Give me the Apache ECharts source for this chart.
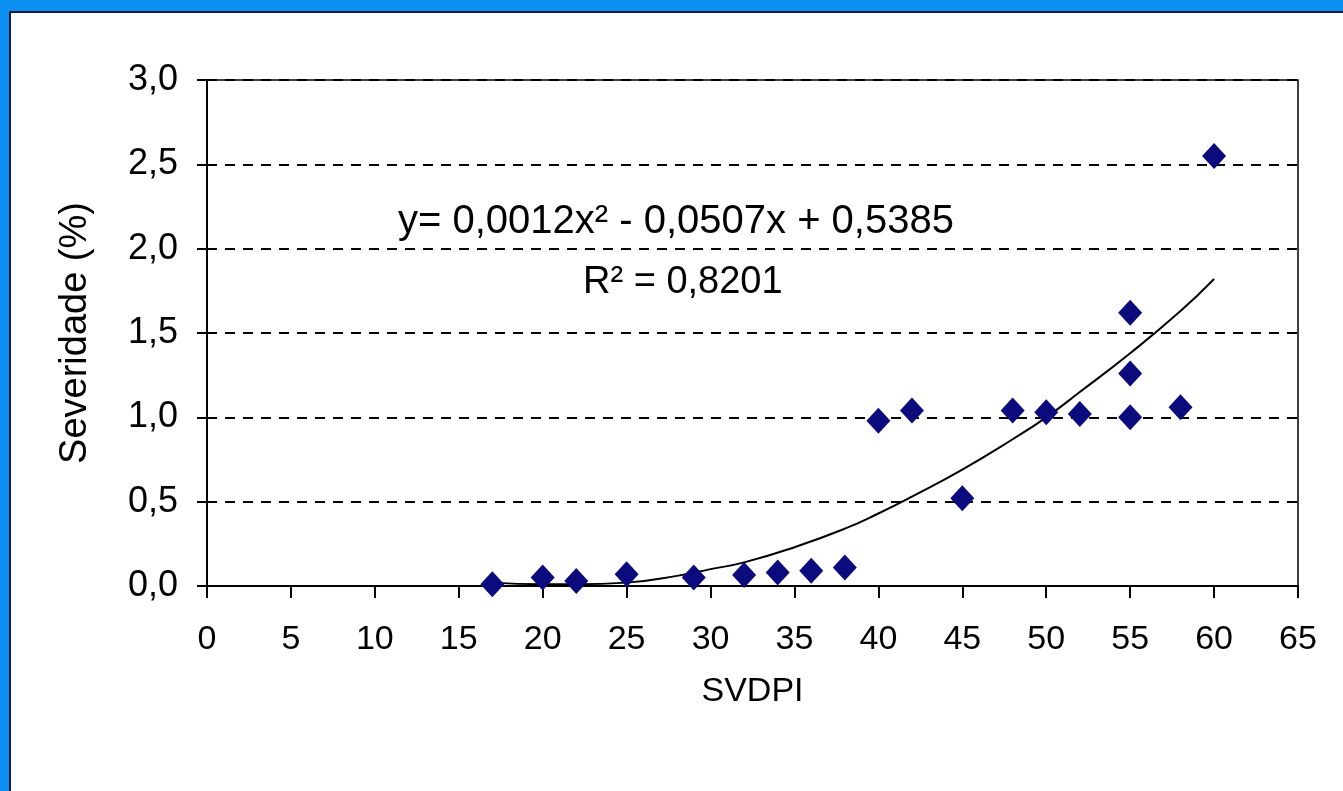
<!DOCTYPE html>
<html>
<head>
<meta charset="utf-8">
<script src="https://cdn.jsdelivr.net/npm/echarts@6/dist/echarts.min.js"></script>
<style>
html,body{margin:0;padding:0;background:#fff;}
#main{width:1343px;height:791px;}
</style>
</head>
<body>
<div id="main"></div>
<script>
// Observed points (SVDPI, Severidade %)
const svdpi = [17, 20, 22, 25, 29, 32, 34, 36, 38, 40, 42, 45, 48, 50, 52, 55, 55, 55, 58, 60];
const severidade = [0.01, 0.05, 0.03, 0.07, 0.05, 0.065, 0.08, 0.09, 0.11, 0.98, 1.04, 0.52, 1.04, 1.03, 1.02, 1.00, 1.26, 1.62, 1.06, 2.55];
// Trend line
const trendX = [17, 20, 22, 25, 28, 30, 32, 35, 38, 40, 42, 45, 48, 50, 52, 55, 58, 60];
const trendY = [0.02, 0.01, 0.01, 0.02, 0.06, 0.10, 0.14, 0.23, 0.34, 0.43, 0.53, 0.69, 0.87, 1.00, 1.15, 1.38, 1.63, 1.82];
const equationText = 'y= 0,0012x² - 0,0507x + 0,5385';
const r2Text = 'R² = 0,8201';
const xAxisName = 'SVDPI';
const yAxisName = 'Severidade (%)';

const chart = echarts.init(document.getElementById('main'));
const FONT = '"Liberation Sans", Arial, sans-serif';
const points = svdpi.map((x, i) => [x, severidade[i]]);
const trend = trendX.map((x, i) => [x, trendY[i]]);

chart.setOption({
  backgroundColor: '#ffffff',
  animation: false,
  grid: { left: 207, right: 45, top: 80, bottom: 205, show: true, borderColor: '#000', borderWidth: 1.5, backgroundColor: 'transparent' },
  xAxis: {
    type: 'value', min: 0, max: 65, interval: 5,
    name: xAxisName, nameLocation: 'middle', nameGap: 89,
    nameTextStyle: { fontFamily: FONT, fontSize: 34, color: '#000' },
    axisLine: { show: true, lineStyle: { color: '#000', width: 2 } },
    axisTick: { show: true, inside: false, length: 12, lineStyle: { color: '#000', width: 2 } },
    axisLabel: { fontFamily: FONT, fontSize: 34, color: '#000', margin: 37 },
    splitLine: { show: false }
  },
  yAxis: {
    type: 'value', min: 0, max: 3, interval: 0.5,
    name: yAxisName, nameLocation: 'middle', nameGap: 112,
    nameTextStyle: { fontFamily: FONT, fontSize: 38, color: '#000' },
    axisLine: { show: true, lineStyle: { color: '#000', width: 2 } },
    axisTick: { show: true, inside: false, length: 10, lineStyle: { color: '#000', width: 2 } },
    axisLabel: { fontFamily: FONT, fontSize: 36, color: '#000', margin: 29,
      formatter: v => v.toFixed(1).replace('.', ',') },
    splitLine: { show: true, lineStyle: { color: '#000', width: 2, type: [10, 8] } }
  },
  series: [
    {
      type: 'line', data: trend, smooth: true, showSymbol: false, symbol: 'none',
      lineStyle: { color: '#000', width: 2 }, z: 2
    },
    {
      type: 'scatter', data: points, symbol: 'diamond', symbolSize: [24, 26],
      itemStyle: { color: '#0b0b7e', opacity: 1 }, z: 3
    }
  ],
  graphic: [
    { type: 'rect', shape: { x: 0, y: 0, width: 1343, height: 11 }, style: { fill: '#0d8ef2' }, z: 100 },
    { type: 'rect', shape: { x: 0, y: 0, width: 9, height: 791 }, style: { fill: '#0d8ef2' }, z: 100 },
    { type: 'rect', shape: { x: 9, y: 11, width: 1334, height: 2 }, style: { fill: '#0a1e3c' }, z: 100 },
    { type: 'rect', shape: { x: 9, y: 11, width: 2, height: 780 }, style: { fill: '#0a1e3c' }, z: 100 },
    { type: 'text', left: 398, top: 202, style: { text: equationText, fontFamily: FONT, fontSize: 40, fill: '#000' }, z: 50 },
    { type: 'text', left: 583, top: 264, style: { text: r2Text, fontFamily: FONT, fontSize: 38, fill: '#000' }, z: 50 }
  ]
});
</script>
</body>
</html>
